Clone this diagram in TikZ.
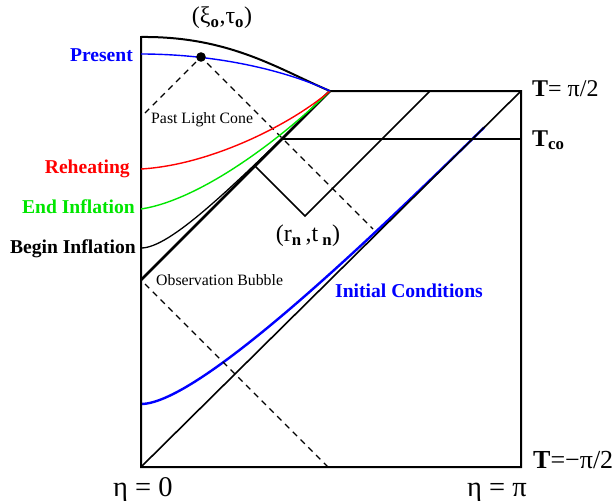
\documentclass[tikz,border=0pt]{standalone}
\usepackage{fontspec}
\setmainfont{Liberation Serif}
\usepackage{xcolor}
\usepackage{tikz}
\usetikzlibrary{positioning}

\definecolor{pblue}{RGB}{0,0,255}
\definecolor{pred}{RGB}{255,0,0}
\definecolor{pgreen}{RGB}{0,230,0}

\begin{document}
\begin{tikzpicture}[
  x=1pt, y=-1pt,
  wall/.style={line width=2pt},
  thin/.style={line width=1.3pt},
  bubble/.style={line width=2.8pt},
  cone/.style={line width=1.4pt, dash pattern=on 6pt off 5pt},
  era/.style={line width=1.4pt},
  lbl/.style={font=\bfseries\fontsize{19.6}{22}\selectfont, inner sep=0pt},
  note/.style={font=\fontsize{15.8}{18}\selectfont, inner sep=0pt},
  mth/.style={font=\fontsize{24}{28}\selectfont, inner sep=0pt},
  axis/.style={font=\fontsize{28.5}{32}\selectfont, inner sep=0pt}
]
  \useasboundingbox (0,0) rectangle (614,501);

  % corners and meeting points
  \coordinate (O)    at (141,467);
  \coordinate (BR)   at (521,467);
  \coordinate (TR)   at (521,91);
  \coordinate (TL)   at (141,37);
  \coordinate (P)    at (330,91);
  \coordinate (B)    at (141,280);
  \coordinate (pres) at (141,54);
  \coordinate (reh)  at (141,169);
  \coordinate (endi) at (141,209);
  \coordinate (begi) at (141,248);
  \coordinate (ic)   at (141,404);
  \coordinate (icE)  at (484,127.6);
  \coordinate (plcL) at (145,113);
  \coordinate (plcR) at (373,229);
  \coordinate (bubS) at (145,284);
  \coordinate (bubE) at (328,467);
  \coordinate (tcoL) at (282,139);
  \coordinate (tcoR) at (521,139);
  \coordinate (zA)   at (255,166);
  \coordinate (zB)   at (305,216);
  \coordinate (zC)   at (430,91);

  % initial conditions under the light ray
  \draw[pblue, line width=2.4pt] (ic) .. controls (200,404) and (380,229.5) .. (icE);

  % frame
  \draw[wall] (P) -- (TR) -- (BR) -- (O) -- (TL)
    .. controls (230,36) and (280,70) .. (P);
  \draw[thin, line width=1.6pt] (O) -- (TR);
  \draw[thin] (tcoL) -- (tcoR);
  \draw[thin, line width=1.7pt] (zA) -- (zB) -- (zC);

  % light cones
  \draw[cone] (plcL) -- (201,57) -- (plcR);
  \draw[cone] (bubS) -- (bubE);

  % epochs
  \draw[thin] (begi) .. controls (170,248) and (230,190) .. (P);
  \draw[bubble] (B) -- (P);
  \draw[era, pgreen] (endi) .. controls (200,200) and (280,140) .. (P);
  \draw[era, pred] (reh) .. controls (210,165) and (290,125) .. (P);
  \draw[era, pblue] (pres) .. controls (210,54) and (280,68) .. (P);

  \fill (201,57) circle (4.8pt) coordinate (obs);

  % labels
  \node[lbl, pblue, anchor=base east]  (tPres) at (133,61)  {Present};
  \node[lbl, pred, anchor=base east]   (tReh)  at (130,173) {Reheating};
  \node[lbl, pgreen, anchor=base east] (tEnd)  at (135,213) {End Inflation};
  \node[lbl, anchor=base east]         (tBeg)  at (136,253) {Begin Inflation};
  \node[lbl, pblue, anchor=base west]  (tIC)   at (335,297) {Initial Conditions};
  \node[note, anchor=base west] (tPLC) at (151,123) {Past Light Cone};
  \node[note, anchor=base west] (tOB)  at (156,285) {Observation Bubble};
  \node[mth] (tObs) at (222,18) {(ξ\textsubscript{\textbf{o}},τ\textsubscript{\textbf{o}})};
  \node[mth] (tRn)  at (308,236) {(r\textsubscript{\textbf{n}}\,,t\,\textsubscript{\textbf{n}})};
  \node[mth, anchor=base west] (tTop) at (532,96)  {\textbf{T}= π/2};
  \node[mth, anchor=base west] (tTco) at (532,146) {\textbf{T\textsubscript{co}}};
  \node[mth, anchor=base west, font=\fontsize{26}{30}\selectfont] (tBot) at (533,468) {\textbf{T}=−π/2};
  \node[axis, anchor=base west] (tEta0) at (113,496) {η = 0};
  \node[axis, anchor=base west] (tEtaP) at (467,496) {η = π};
\end{tikzpicture}
\end{document}
